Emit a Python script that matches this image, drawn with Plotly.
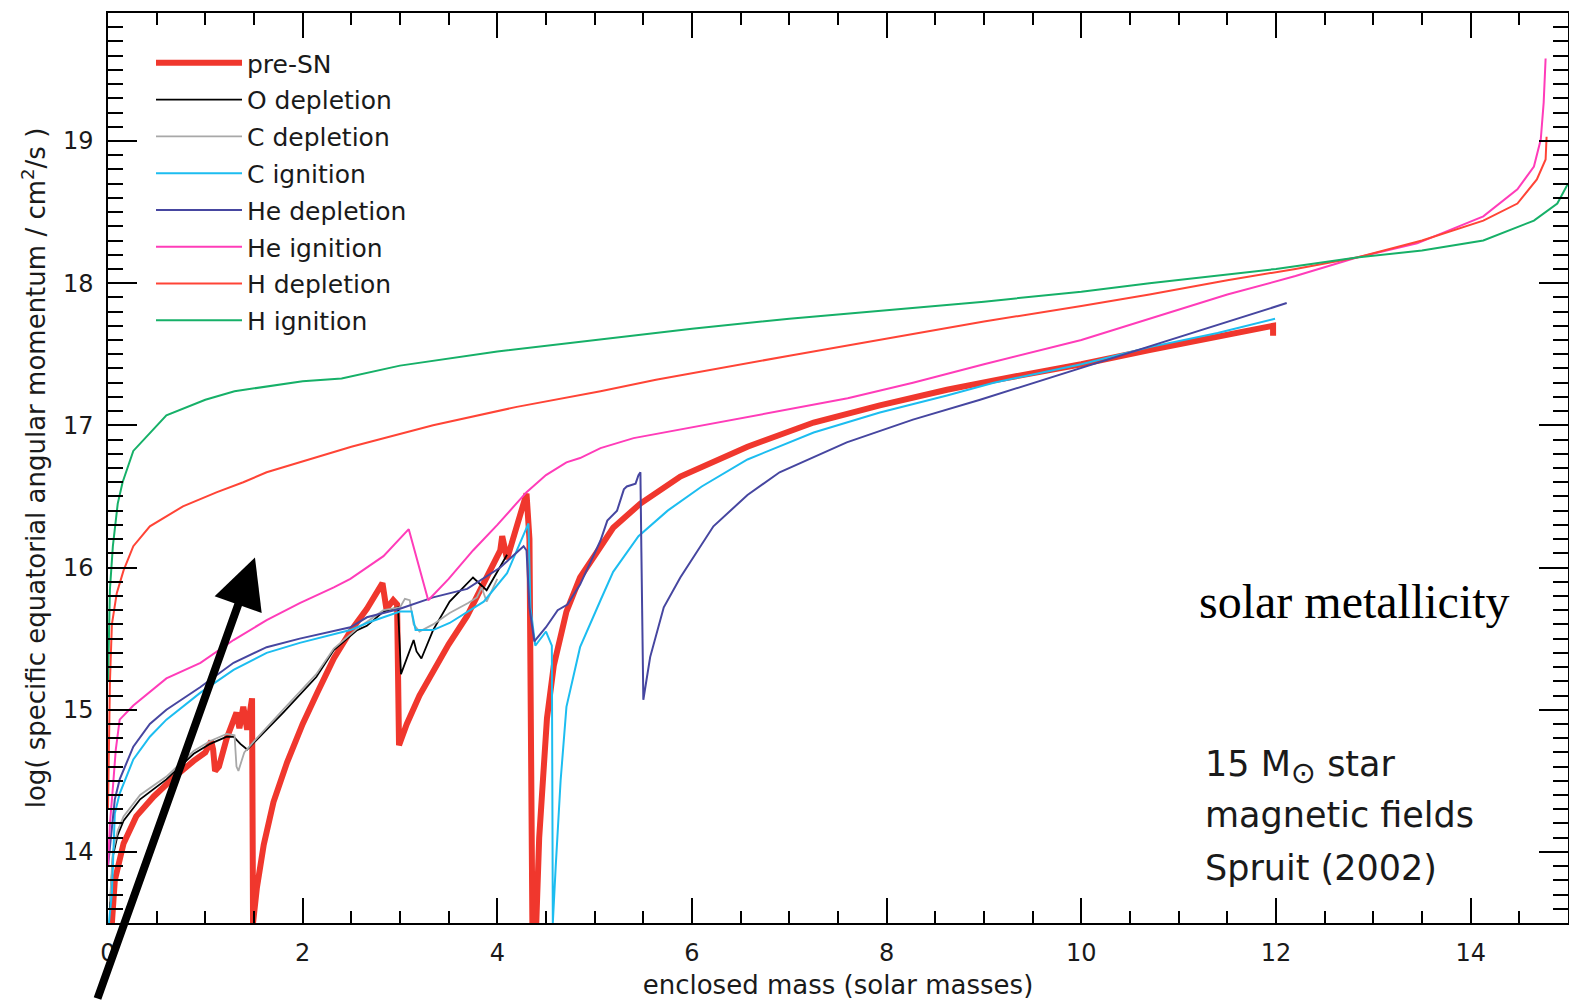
import plotly.graph_objects as go

# ---------------- data ----------------
names = ["pre-SN", "O depletion", "C depletion", "C ignition",
         "He depletion", "He ignition", "H depletion", "H ignition"]

preSN_x = [0.04, 0.07, 0.16, 0.29, 0.47, 0.67, 0.88, 1.0, 1.06, 1.08, 1.10, 1.14, 1.22, 1.32, 1.35,
           1.39, 1.43, 1.48, 1.49, 1.53, 1.6, 1.7, 1.84, 2.0, 2.15, 2.32, 2.49, 2.66, 2.82, 2.86,
           2.93, 2.97, 2.99, 3.07, 3.2, 3.34, 3.5, 3.69, 3.85, 4.03, 4.05, 4.10, 4.30, 4.33, 4.36, 4.40, 4.43,
           4.47, 4.51, 4.58, 4.71, 4.85, 5.19, 5.47, 5.88, 6.57, 7.25, 7.93, 8.62, 9.13, 10.0,
           10.7, 11.4, 11.97, 11.97]
preSN_y = [13.5, 13.8, 14.06, 14.25, 14.39, 14.52, 14.64, 14.7, 14.78, 14.72, 14.57, 14.6, 14.8, 14.98, 14.87,
           15.02, 14.86, 15.08, 13.5, 13.75, 14.05, 14.35, 14.63, 14.9, 15.12, 15.36, 15.55, 15.71, 15.89, 15.71,
           15.77, 15.74, 14.75, 14.9, 15.1, 15.27, 15.46, 15.66, 15.88, 16.12, 16.22, 16.06, 16.52, 16.2, 13.5, 13.5, 14.1,
           14.56, 14.94, 15.31, 15.69, 15.93, 16.28, 16.45, 16.64, 16.85, 17.02, 17.14, 17.25, 17.32, 17.43,
           17.53, 17.62, 17.7, 17.63]

Odep_x = [0.02, 0.05, 0.1, 0.16, 0.33, 0.6, 0.88, 1.05, 1.22, 1.29, 1.36, 1.43, 1.53, 1.8, 2.14, 2.32,
          2.56, 2.66, 2.83, 2.98, 3.01, 3.14, 3.17, 3.22, 3.34, 3.51, 3.75, 3.89, 4.10]
Odep_y = [13.6, 13.97, 14.12, 14.22, 14.37, 14.51, 14.69, 14.76, 14.81, 14.81, 14.76, 14.72, 14.79, 14.98, 15.23, 15.42,
          15.56, 15.59, 15.69, 15.72, 15.25, 15.49, 15.41, 15.36, 15.56, 15.76, 15.93, 15.84, 16.09]

Cdep_x = [0.02, 0.05, 0.1, 0.16, 0.33, 0.6, 0.88, 1.05, 1.22, 1.3, 1.32, 1.34, 1.4, 1.45, 1.53, 1.8,
          2.14, 2.32, 2.56, 2.83, 3.0, 3.05, 3.1, 3.14, 3.2, 3.34, 3.51, 3.7, 3.79, 3.84, 3.89, 4.0]
Cdep_y = [13.65, 14.0, 14.15, 14.25, 14.4, 14.53, 14.71, 14.78, 14.83, 14.82, 14.6, 14.57, 14.7, 14.74, 14.8, 15.0,
          15.25, 15.43, 15.57, 15.7, 15.72, 15.78, 15.77, 15.6, 15.55, 15.6, 15.68, 15.75, 15.79, 15.86, 15.76, 15.92]

Cign_x = [0.01, 0.04, 0.07, 0.12, 0.26, 0.43, 0.6, 0.95, 1.29, 1.63, 1.97, 2.49, 2.66, 3.0, 3.12, 3.16,
          3.34, 3.51, 3.86, 4.10, 4.32, 4.34, 4.39, 4.5, 4.56, 4.57, 4.6, 4.65, 4.71, 4.85, 5.06, 5.19,
          5.45, 5.75, 6.1, 6.57, 7.25, 7.93, 8.62, 9.1, 10.0, 10.7, 11.4, 11.99]
Cign_y = [13.5, 13.71, 14.27, 14.41, 14.65, 14.81, 14.93, 15.12, 15.28, 15.4, 15.47, 15.56, 15.61, 15.69, 15.69, 15.56,
          15.56, 15.61, 15.76, 15.96, 16.31, 15.72, 15.45, 15.55, 15.45, 13.5, 13.9, 14.5, 15.02, 15.44, 15.77, 15.97,
          16.22, 16.4, 16.57, 16.76, 16.95, 17.09, 17.21, 17.3, 17.43, 17.55, 17.65, 17.75]

Hedep_x = [0.0, 0.04, 0.07, 0.12, 0.26, 0.43, 0.6, 0.95, 1.29, 1.63, 1.97, 2.49, 2.66, 3.0, 3.34, 3.69,
           4.03, 4.27, 4.30, 4.33, 4.38, 4.5, 4.62, 4.72, 4.85, 5.06, 5.13, 5.23, 5.3, 5.33, 5.42, 5.45,
           5.47, 5.48, 5.5, 5.57, 5.71, 5.88, 6.22, 6.57, 6.9, 7.59, 8.27, 8.96, 9.7, 10.7, 11.4, 12.11]
Hedep_y = [13.9, 14.15, 14.37, 14.51, 14.74, 14.9, 15.0, 15.16, 15.33, 15.44, 15.5, 15.58, 15.65, 15.71, 15.79, 15.85,
           16.0, 16.15, 16.12, 15.72, 15.48, 15.58, 15.7, 15.74, 15.88, 16.19, 16.33, 16.4, 16.55, 16.57, 16.59, 16.65,
           16.67, 16.11, 15.07, 15.37, 15.72, 15.93, 16.29, 16.51, 16.67, 16.88, 17.04, 17.18, 17.34, 17.56, 17.71, 17.86]

Heign_x = [0.0, 0.02, 0.05, 0.08, 0.12, 0.26, 0.6, 0.95, 1.29, 1.63, 1.97, 2.32, 2.49, 2.83, 3.09, 3.29,
           3.5, 3.75, 4.0, 4.3, 4.5, 4.71, 4.85, 5.06, 5.4, 5.8, 6.57, 7.6, 8.27, 9.0, 10.0, 10.7,
           11.5, 12.2, 12.83, 13.45, 14.13, 14.48, 14.65, 14.72, 14.75, 14.77]
Heign_y = [13.9, 14.2, 14.45, 14.72, 14.93, 15.03, 15.22, 15.33, 15.49, 15.63, 15.75, 15.86, 15.92, 16.08, 16.27, 15.77,
           15.92, 16.12, 16.3, 16.53, 16.65, 16.74, 16.77, 16.84, 16.91, 16.96, 17.06, 17.19, 17.3, 17.43, 17.6, 17.75,
           17.92, 18.05, 18.18, 18.28, 18.47, 18.66, 18.82, 19.01, 19.27, 19.58]

Hdep_x = [0.0, 0.02, 0.04, 0.09, 0.16, 0.26, 0.43, 0.77, 1.12, 1.39, 1.63, 2.5, 3.34, 4.2, 5.06, 5.63,
          7.0, 8.0, 9.0, 10.0, 10.7, 11.5, 12.2, 12.83, 13.5, 14.13, 14.48, 14.68, 14.77, 14.78]
Hdep_y = [14.3, 15.2, 15.6, 15.82, 15.98, 16.15, 16.29, 16.43, 16.53, 16.6, 16.67, 16.85, 17.0, 17.13, 17.24, 17.32,
          17.49, 17.61, 17.73, 17.84, 17.92, 18.02, 18.1, 18.18, 18.3, 18.44, 18.56, 18.73, 18.87, 19.03]

Hign_x = [0.0, 0.01, 0.02, 0.05, 0.1, 0.15, 0.26, 0.6, 1.0, 1.3, 2.0, 2.4, 3.0, 4.0, 5.0, 6.0, 7.0,
          8.0, 9.0, 10.0, 10.7, 12.0, 12.83, 13.5, 14.13, 14.65, 14.89, 15.0]
Hign_y = [15.2, 15.6, 15.85, 16.15, 16.45, 16.6, 16.82, 17.07, 17.18, 17.24, 17.31, 17.33, 17.42, 17.52, 17.6, 17.68, 17.75,
          17.81, 17.87, 17.94, 18.0, 18.1, 18.18, 18.23, 18.3, 18.44, 18.56, 18.7]

x_ticks = [0, 2, 4, 6, 8, 10, 12, 14]
y_ticks = [14, 15, 16, 17, 18, 19]

# ---------------- styling ----------------
xs_all = [preSN_x, Odep_x, Cdep_x, Cign_x, Hedep_x, Heign_x, Hdep_x, Hign_x]
ys_all = [preSN_y, Odep_y, Cdep_y, Cign_y, Hedep_y, Heign_y, Hdep_y, Hign_y]
colors = ["#F0372D", "#000000", "#A8A8A8", "#1CBDF0", "#4646A0", "#FF3CB9", "#FF4436", "#16B068"]
widths = [6, 1.8, 1.8, 2, 2, 2, 2, 2]

fig = go.Figure()
for nm, xs, ys, c, w in zip(names, xs_all, ys_all, colors, widths):
    fig.add_trace(go.Scatter(x=xs, y=ys, mode="lines", name=nm, legendgroup=nm,
                             line=dict(color=c, width=w)))

FONT = "DejaVu Sans"
TXT = "#1a1a1a"

fig.update_layout(
    width=1569, height=1000,
    margin=dict(l=108, r=1, t=13, b=77),
    paper_bgcolor="white", plot_bgcolor="white",
    font=dict(family=FONT, size=24, color=TXT),
    showlegend=True,
    legend=dict(x=(151 - 108) / 1460, y=1 - (40 - 13) / 910, xanchor="left", yanchor="top",
                bgcolor="rgba(0,0,0,0)", borderwidth=0, font=dict(family=FONT, size=25, color=TXT),
                itemwidth=86, tracegroupgap=1.3, traceorder="grouped"),
    xaxis=dict(range=[0, 15], tickvals=x_ticks, showline=True, linecolor="black", linewidth=1.5,
               mirror="allticks", ticks="inside", ticklen=25, tickwidth=1.5, tickcolor="black",
               showgrid=False, zeroline=False, tickfont=dict(family=FONT, size=24, color=TXT),
               ticklabelstandoff=7, automargin=False,
               minor=dict(ticks="inside", ticklen=12, dtick=0.5, tick0=0, tickwidth=1.5,
                          tickcolor="black", showgrid=False),
               title=dict(text="enclosed mass (solar masses)", standoff=12,
                          font=dict(family=FONT, size=26, color=TXT))),
    yaxis=dict(range=[13.5, 19.9], tickvals=y_ticks, showline=True, linecolor="black", linewidth=1.5,
               mirror="allticks", ticks="inside", ticklen=29, tickwidth=1.5, tickcolor="black",
               showgrid=False, zeroline=False, tickfont=dict(family=FONT, size=24, color=TXT),
               ticklabelstandoff=8, automargin=False,
               minor=dict(ticks="inside", ticklen=15, dtick=0.1, tick0=0, tickwidth=1.5,
                          tickcolor="black", showgrid=False),
               title=dict(text="log( specific equatorial angular momentum / cm<sup>2</sup>/s )", standoff=10,
                          font=dict(family=FONT, size=26, color=TXT))),
)

annotations = [
    dict(x=11.19, y=15.76, xref="x", yref="y", text="solar metallicity", showarrow=False,
         xanchor="left", yanchor="middle", font=dict(family="Liberation Serif", size=48, color="black")),
    dict(x=11.25, y=14.6, xref="x", yref="y",
         text="15 M<sub><span style='font-size:30px'>⊙</span></sub> star", showarrow=False,
         xanchor="left", yanchor="middle", font=dict(family=FONT, size=35, color=TXT)),
    dict(x=11.25, y=14.26, xref="x", yref="y", text="magnetic fields", showarrow=False,
         xanchor="left", yanchor="middle", font=dict(family=FONT, size=35, color=TXT)),
    dict(x=11.25, y=13.89, xref="x", yref="y", text="Spruit (2002)", showarrow=False,
         xanchor="left", yanchor="middle", font=dict(family=FONT, size=35, color=TXT)),
    dict(x=1.51, y=16.07, xref="x", yref="y", text="", showarrow=True, ax=-158, ay=450,
         arrowhead=2, arrowwidth=8, arrowsize=1.25, arrowcolor="black", standoff=0),
]
fig.update_layout(annotations=annotations)

fig.write_html("out.html")
